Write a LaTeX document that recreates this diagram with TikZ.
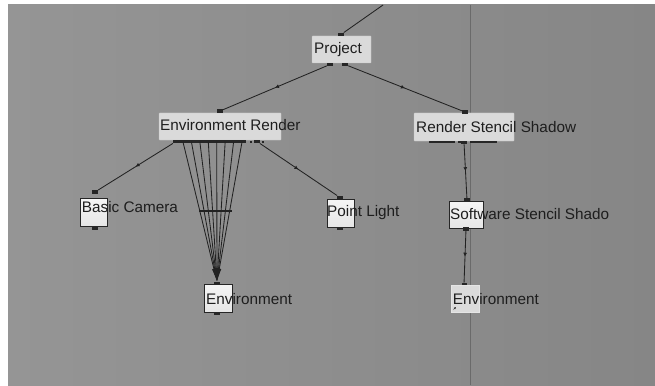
\documentclass[tikz,border=0pt]{standalone}
\usepackage{fontspec}
\setmainfont{Liberation Sans}
\usetikzlibrary{arrows.meta,decorations.markings}
\definecolor{bgl}{HTML}{959595}
\definecolor{bgr}{HTML}{868686}
\definecolor{headfill}{HTML}{DADADA}
\definecolor{iconfill}{HTML}{E6E6E6}
\definecolor{linkc}{HTML}{222222}
\definecolor{txt}{HTML}{1E1E1E}
\definecolor{vline}{HTML}{6A6A6A}
\begin{document}
\begin{tikzpicture}[x=1pt,y=-1pt,
  headbox/.style={fill=headfill, draw=headfill!90!black, line width=0.3pt, inner sep=0pt, rounded corners=0.5pt},
  iconbox/.style={draw=black!85, line width=0.9pt, top color=white!92!gray, bottom color=white!80!gray, inner sep=0pt, minimum width=27pt, minimum height=28pt},
  litebox/.style={draw=white!80!gray, line width=0.6pt, fill=white!72!gray, inner sep=0pt, minimum width=28pt, minimum height=27pt},
  lbl/.style={font=\fontsize{15.3pt}{15pt}\selectfont, text=txt, anchor=base west, inner sep=0pt},
  tabn/.style={fill=black!85, minimum width=6pt, minimum height=3.5pt, inner sep=0pt},
  link/.style={draw=linkc, line width=0.85pt},
  midmark/.style={decoration={markings, mark=at position #1 with {\arrow{Latex[length=4pt,width=4pt]}}}, postaction=decorate},
  midmark/.default=0.5
]
\useasboundingbox (0,0) rectangle (655,385);
\fill[white] (0,0) rectangle (655,385);
\shade[left color=bgl, right color=bgr] (8,5) rectangle (655,385);
\draw[vline, line width=0.9pt] (470.5,5) -- (470.5,385);

% boxes
\node[headbox, minimum width=59pt, minimum height=27pt] (proj) at (341.5,49.5) {};
\node[headbox, minimum width=122pt, minimum height=27pt] (envr) at (220,126.5) {};
\node[headbox, minimum width=100pt, minimum height=28pt] (rss) at (464,127) {};
\node[iconbox] (cam) at (93.5,212.5) {};
\node[iconbox] (plight) at (340.5,213) {};
\node[iconbox, minimum width=28pt] (envl) at (218,298.5) {};
\node[iconbox, minimum width=34pt, minimum height=27pt] (sss) at (466,214.5) {};
\node[litebox] (envrt) at (465,298.5) {};

% tabs / ports
\node[tabn] (projT) at (341,34.5) {};
\node[tabn] (projB1) at (330,64.5) {};
\node[tabn] (projB2) at (345,64.5) {};
\node[tabn] (envrT) at (220,111) {};
\node[tabn] (envrB1) at (176,141.5) {};
\node[tabn] (envrB2) at (257,141.5) {};
\fill[black!85] (178,140) rectangle (246,143);
\fill[black!85] (250,141) rectangle (252,142.5);
\fill[black!85] (262,141) rectangle (264,142.5);
\node[tabn] (rssT) at (465,112) {};
\fill[black!85] (429,140.5) rectangle (455,143);
\fill[black!85] (458,141) rectangle (461,142.5);
\fill[black!85] (470,141) rectangle (497,142.5);
\node[tabn] (rssB) at (464,142.5) {};
\node[tabn] (camT) at (95,192) {};
\node[tabn] (camB) at (95,228.5) {};
\node[tabn] (plT) at (340,197.5) {};
\node[tabn] (plB) at (340,228.5) {};
\node[tabn] (envlT) at (217,283.5) {};
\node[tabn] (envlB) at (217,313.5) {};
\node[tabn] (sssT) at (467,200) {};
\node[tabn] (sssB) at (466,229) {};
\node[tabn, minimum width=5pt, minimum height=2.5pt] (envrtT) at (464,284) {};
\coordinate (topfree) at (383,5);

% connectors
\draw[link] (projT) -- (topfree);
\draw[link, midmark] (projB1) -- (envrT);
\draw[link, midmark] (projB2) -- (rssT);
\draw[link, midmark] (envrB1) -- (camT);
\draw[link, midmark] (envrB2) -- (plT);
\draw[link, midmark] (rssB) -- (sssT);
\draw[link, midmark] (sssB) -- (envrtT);
\foreach \i in {0,...,7} {
  \coordinate (fan\i) at ({183+\i*8.43},142);
  \draw[link, -{Latex[length=13pt,width=4pt]}] (fan\i) -- (envlT.north);
}
\coordinate (barL) at (199,211);
\coordinate (barR) at (232,211);
\draw[linkc, line width=1.5pt] (barL) -- (barR);
% shortcut icon on right Environment
\draw[black!85, line width=0.6pt, -{Latex[length=2pt,width=2pt]}] (453.5,309.5) -- (456,307);

% labels
\node[lbl] (projL) at (314,54) {Project};
\node[lbl] (envrL) at (160,130.5) {Environment Render};
\node[lbl] (rssL) at (416,132.7) {Render Stencil Shadow};
\node[lbl] (camL) at (81.7,212.7) {Basic Camera};
\node[lbl] (plL) at (327,216.5) {Point Light};
\node[lbl] (envlL) at (206,304) {Environment};
\node[lbl] (sssL) at (450,219.3) {Software Stencil Shado};
\node[lbl] (envrtL) at (452.7,304) {Environment};
\end{tikzpicture}
\end{document}
